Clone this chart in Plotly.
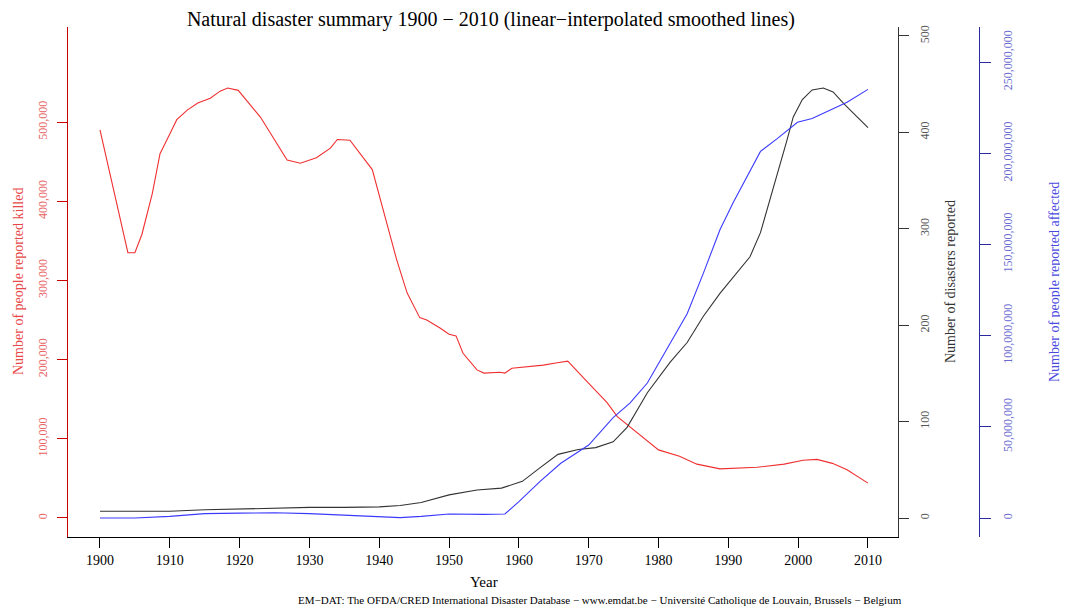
import plotly.graph_objects as go

# ---------------- data ----------------
killed_years = [1900, 1904, 1905, 1906, 1907.5, 1908.6, 1910, 1911, 1912.5, 1914, 1915.8,
                1917.2, 1918.3, 1919.8, 1923, 1926.8, 1928.7, 1931, 1933, 1934, 1935.8,
                1939, 1942.5, 1944, 1945.8, 1946.8, 1948.7, 1950, 1951, 1952, 1954, 1955,
                1957.3, 1958, 1959, 1961.2, 1963.5, 1965.5, 1967, 1969.8, 1972.6, 1974.1,
                1976.4, 1978.4, 1980, 1983, 1985.5, 1988.8, 1991.7, 1994.1, 1998, 2000.7,
                2002.7, 2004.9, 2007, 2010]
killed = [490000, 335000, 335000, 358000, 410000, 460000, 485000, 503000, 515000, 524000,
          530000, 539000, 543000, 540000, 506000, 452000, 448000, 455000, 467000, 478000,
          477000, 440000, 326000, 284000, 253000, 250000, 240000, 232000, 230000, 208000,
          187000, 183000, 184000, 183000, 189000, 191000, 193000, 196000, 198000, 172000,
          146000, 128000, 112000, 98000, 86000, 78000, 68000, 62000, 63000, 64000, 68000,
          73000, 74000, 69000, 61000, 44000]

disaster_years = [1900, 1905, 1910, 1915, 1920, 1925, 1930, 1935, 1940, 1943, 1946, 1950,
                  1954, 1957.5, 1960.5, 1963, 1965.6, 1968.5, 1971, 1973.5, 1975.5, 1978.4,
                  1981.7, 1984.1, 1986.4, 1988.8, 1991.2, 1993.1, 1994.6, 1995.7, 1997.1,
                  1998.4, 1999.3, 2000.6, 2002, 2003.6, 2005, 2006.5, 2007.9, 2010]
disasters = [7, 7, 7, 8.5, 9.5, 10, 11, 11, 11.5, 13, 16, 24, 29, 31, 38, 52, 66, 71, 73,
             79, 94, 130, 162, 182, 209, 233, 254, 271, 296, 323, 358, 392, 416, 434, 444,
             446, 442, 430, 420, 405]

affected_years = [1900, 1905, 1910, 1915, 1920, 1925, 1930, 1935, 1940, 1943, 1946, 1950,
                  1955, 1958, 1960, 1963, 1966, 1970, 1973.5, 1975.9, 1978.4, 1981.7,
                  1984.1, 1986.4, 1988.8, 1990.7, 1992.7, 1994.6, 1997, 1999.9, 2002,
                  2004.2, 2007, 2010]
affected_millions = [0, 0, 0.9, 2.4, 2.7, 2.9, 2.4, 1.5, 0.4, 0.2, 0.9, 2.2, 2.0, 2.2, 9,
                     20, 30, 40, 55, 63, 74, 96, 112, 134, 158, 173, 187, 201, 208, 217,
                     219, 223, 228, 235]
affected = [v * 1e6 for v in affected_millions]

year_ticks = list(range(1900, 2011, 10))
killed_ticks = [0, 100000, 200000, 300000, 400000, 500000]
disaster_ticks = [0, 100, 200, 300, 400, 500]
affected_ticks = [0, 50e6, 100e6, 150e6, 200e6, 250e6]

TITLE = "Natural disaster summary 1900 \u2212 2010 (linear\u2212interpolated smoothed lines)"
CAPTION = ("EM\u2212DAT: The OFDA/CRED International Disaster Database \u2212 www.emdat.be "
           "\u2212 Universit\u00e9 Catholique de Louvain, Brussels \u2212 Belgium")

# ---------------- layout geometry ----------------
# the page body has an 8px margin, so the figure is drawn 8px right/down
OFF = 8
W, H = 1068 - OFF, 606 - OFF
L = 68 - OFF            # left axis at x=68 in the window
T = 27 - OFF            # plot top at y=27
R = W - (979 - OFF)     # blue axis at x=979
B = H - (537 - OFF)     # x axis at y=537
PW = W - L - R
PH = H - T - B
X_END = 898             # right end of x axis (window px)


def px(x):
    return (x - OFF - L) / PW


def py(y):
    return (H - B - (y - OFF)) / PH


FONT = "Liberation Serif"
RED_LINE = "#f03030"
RED_AXIS = "#c80000"
RED_TXT = "#e86060"
BLUE_LINE = "#3a3aff"
BLUE_AXIS = "#2a2aa0"
BLUE_TXT = "#6a6ad0"
BLACK_LINE = "#333333"

fig = go.Figure()
fig.add_trace(go.Scatter(x=killed_years, y=killed, mode="lines",
                         line=dict(color=RED_LINE, width=1.1), yaxis="y",
                         name="Killed", showlegend=False))
fig.add_trace(go.Scatter(x=disaster_years, y=disasters, mode="lines",
                         line=dict(color=BLACK_LINE, width=1.1), yaxis="y2",
                         name="Disasters", showlegend=False))
fig.add_trace(go.Scatter(x=affected_years, y=affected, mode="lines",
                         line=dict(color=BLUE_LINE, width=1.1), yaxis="y3",
                         name="Affected", showlegend=False))

fig.update_layout(
    width=W, height=H,
    margin=dict(l=L, r=R, t=T, b=B),
    paper_bgcolor="white", plot_bgcolor="white",
    font=dict(family=FONT, color="black"),
    title=dict(text=TITLE, x=px(483), xanchor="center", y=1 - (19 - OFF) / H,
               yanchor="middle", font=dict(size=20, family=FONT, color="black")),
    xaxis=dict(domain=[0, px(X_END)], range=[1895.42, 2014.3],
               showgrid=False, zeroline=False, showline=True, linecolor="black",
               linewidth=1, ticks="outside", ticklen=10, tickcolor="black",
               tickvals=year_ticks, tickfont=dict(size=14, family=FONT, color="black"),
               ticklabelstandoff=0),
    yaxis=dict(range=[-24000, 620000], showgrid=False, zeroline=False, showline=True,
               linecolor=RED_AXIS, linewidth=1.3, ticks="outside", ticklen=10,
               tickcolor=RED_AXIS, tickvals=killed_ticks, tickformat=",d",
               tickangle=-90, tickfont=dict(size=12, family=FONT, color=RED_TXT),
               ticklabelstandoff=5),
    yaxis2=dict(range=[-19.7, 509.3], overlaying="y", side="right", anchor="x",
                showgrid=False, zeroline=False, showline=True, linecolor="#333333",
                linewidth=1.3, ticks="outside", ticklen=10, tickcolor="#333333",
                tickvals=disaster_ticks, tickangle=-90,
                tickfont=dict(size=12, family=FONT, color="#555555"),
                ticklabelstandoff=5),
    yaxis3=dict(range=[-10.4e6, 269.2e6], overlaying="y", side="right", anchor="free",
                position=1.0, showgrid=False, zeroline=False, showline=True,
                linecolor=BLUE_AXIS, linewidth=1.3, ticks="outside", ticklen=11,
                tickcolor=BLUE_AXIS, tickvals=affected_ticks, tickformat=",d",
                tickangle=-90, tickfont=dict(size=12, family=FONT, color=BLUE_TXT),
                ticklabelstandoff=6),
)

ann = [
    dict(text="Number of people reported killed", x=px(18), y=0.5, textangle=-90,
         font=dict(size=14, family=FONT, color="#e84848")),
    dict(text="Number of disasters reported", x=px(950), y=0.5, textangle=-90,
         font=dict(size=14, family=FONT, color="#333333")),
    dict(text="Number of people reported affected", x=px(1054), y=0.5, textangle=-90,
         font=dict(size=14, family=FONT, color="#4a4ae0")),
    dict(text="Year", x=px(484), y=py(582), font=dict(size=15, family=FONT, color="black")),
]
for a in ann:
    fig.add_annotation(xref="paper", yref="paper", showarrow=False,
                       xanchor="center", yanchor="middle", **a)
fig.add_annotation(text=CAPTION, xref="paper", yref="paper", x=px(904), y=py(600),
                   xanchor="right", yanchor="middle", showarrow=False,
                   font=dict(size=11, family=FONT, color="black"))

fig.write_html("out.html")
